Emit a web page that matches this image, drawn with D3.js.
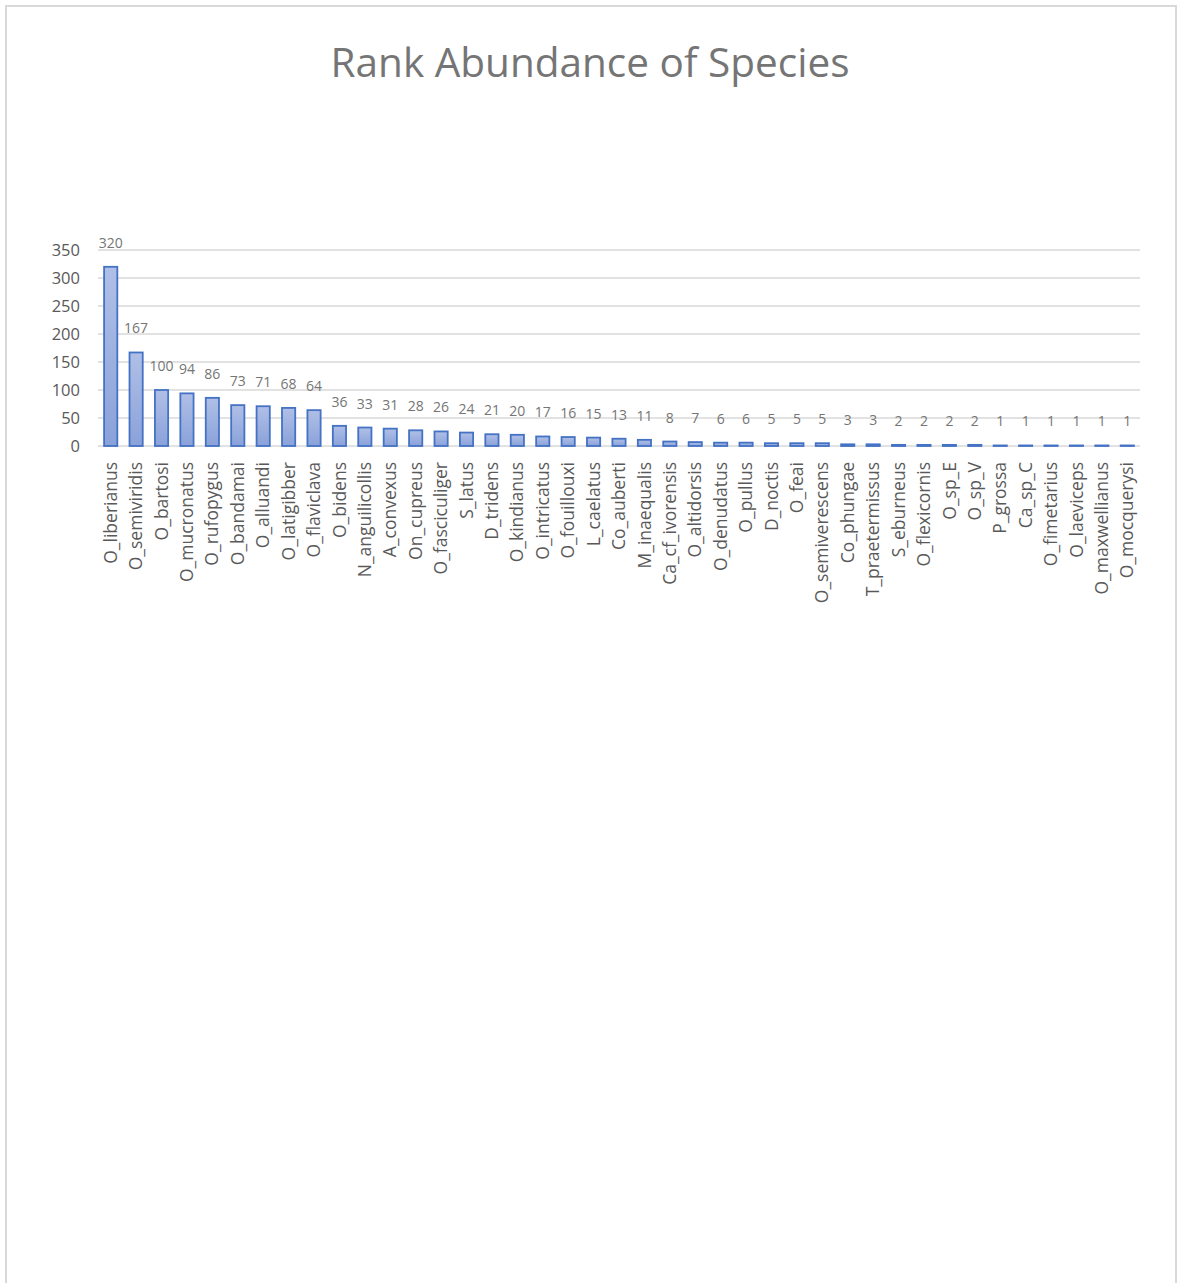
<!DOCTYPE html>
<html>
<head>
<meta charset="utf-8">
<script src="https://cdn.jsdelivr.net/npm/d3@7"></script>
<style>
  body { margin: 0; background: #fff; }
  text { font-family: "Open Sans", sans-serif; }
</style>
</head>
<body>
<div id="chart-area"></div>
<script>
// species in rank order
var species = ["O_liberianus", "O_semiviridis", "O_bartosi", "O_mucronatus", "O_rufopygus",
  "O_bandamai", "O_alluandi", "O_latigibber", "O_flaviclava", "O_bidens", "N_anguilicollis",
  "A_convexus", "On_cupreus", "O_fasciculiger", "S_latus", "D_tridens", "O_kindianus",
  "O_intricatus", "O_fouillouxi", "L_caelatus", "Co_auberti", "M_inaequalis", "Ca_cf_ivorensis",
  "O_altidorsis", "O_denudatus", "O_pullus", "D_noctis", "O_feai", "O_semiverescens",
  "Co_phungae", "T_praetermissus", "S_eburneus", "O_flexicornis", "O_sp_E", "O_sp_V",
  "P_grossa", "Ca_sp_C", "O_fimetarius", "O_laeviceps", "O_maxwellianus", "O_mocquerysi"];

// abundance counts
var counts = [320, 167, 100, 94, 86, 73, 71, 68, 64, 36, 33, 31, 28, 26, 24, 21, 20, 17, 16, 15,
  13, 11, 8, 7, 6, 6, 5, 5, 5, 3, 3, 2, 2, 2, 2, 1, 1, 1, 1, 1, 1];

var yTicks = [0, 50, 100, 150, 200, 250, 300, 350];

var W = 1180, H = 1283;
// plot area edges (window.top is reserved, so use other names)
var plotL = 98, plotR = 1140, plotT = 250, plotB = 446;

var svg = d3.select("#chart-area").append("svg")
  .attr("width", W)
  .attr("height", H);

// gradient for the bars
var grad = svg.append("defs").append("linearGradient")
  .attr("id", "barFill")
  .attr("x1", 0).attr("y1", 0).attr("x2", 0).attr("y2", 1);
grad.append("stop").attr("offset", "0%").attr("stop-color", "#b0bfe6");
grad.append("stop").attr("offset", "100%").attr("stop-color", "#8aa2da");

// chart border
svg.append("rect")
  .attr("x", 6).attr("y", 6)
  .attr("width", 1170).attr("height", 1290)
  .attr("fill", "none")
  .attr("stroke", "#d9d9d9")
  .attr("stroke-width", 2);

svg.append("text")
  .attr("x", 590).attr("y", 77)
  .attr("text-anchor", "middle")
  .attr("font-size", 40.5)
  .attr("fill", "#757575")
  .text("Rank Abundance of Species");

var x = d3.scaleBand()
  .domain(species)
  .range([plotL, plotR])
  .paddingInner(0.48)
  .paddingOuter(0.24);

var y = d3.scaleLinear()
  .domain([0, 350])
  .range([plotB, plotT]);

// gridlines
svg.append("g")
  .selectAll("line")
  .data(yTicks)
  .enter()
  .append("line")
  .attr("x1", plotL).attr("x2", plotR)
  .attr("y1", function(d) { return y(d); })
  .attr("y2", function(d) { return y(d); })
  .attr("stroke", "#d9d9d9")
  .attr("stroke-width", 1.3);

// y axis
var yAxis = svg.append("g")
  .attr("transform", "translate(" + plotL + ",0)")
  .call(d3.axisLeft(y).tickValues(yTicks).tickSize(0).tickPadding(18));
yAxis.select(".domain").remove();
yAxis.selectAll("text")
  .attr("font-size", 16.5)
  .attr("font-family", "Open Sans")
  .attr("fill", "#595959");

// x axis
var xAxis = svg.append("g")
  .attr("transform", "translate(0," + plotB + ")")
  .call(d3.axisBottom(x).tickSize(0).tickPadding(0));
xAxis.select(".domain").remove();
xAxis.selectAll("text")
  .attr("font-size", 17.5)
  .attr("font-family", "Open Sans")
  .attr("fill", "#595959")
  .attr("text-anchor", "end")
  .attr("dy", "0.35em")
  .attr("transform", "translate(0,16) rotate(-90)");

// bars
svg.selectAll("rect.bar")
  .data(counts)
  .enter()
  .append("rect")
  .attr("class", "bar")
  .attr("x", function(d, i) { return x(species[i]); })
  .attr("y", function(d) { return y(d); })
  .attr("width", x.bandwidth())
  .attr("height", function(d) { return plotB - y(d); })
  .attr("fill", "url(#barFill)")
  .attr("stroke", "#4472c4")
  .attr("stroke-width", 1.8);

// value labels
svg.selectAll("text.val")
  .data(counts)
  .enter()
  .append("text")
  .attr("class", "val")
  .attr("x", function(d, i) { return x(species[i]) + x.bandwidth() / 2; })
  .attr("y", function(d) { return y(d) - 19; })
  .attr("text-anchor", "middle")
  .attr("font-size", 14)
  .attr("fill", "#757575")
  .text(function(d) { return d; });
</script>
</body>
</html>
